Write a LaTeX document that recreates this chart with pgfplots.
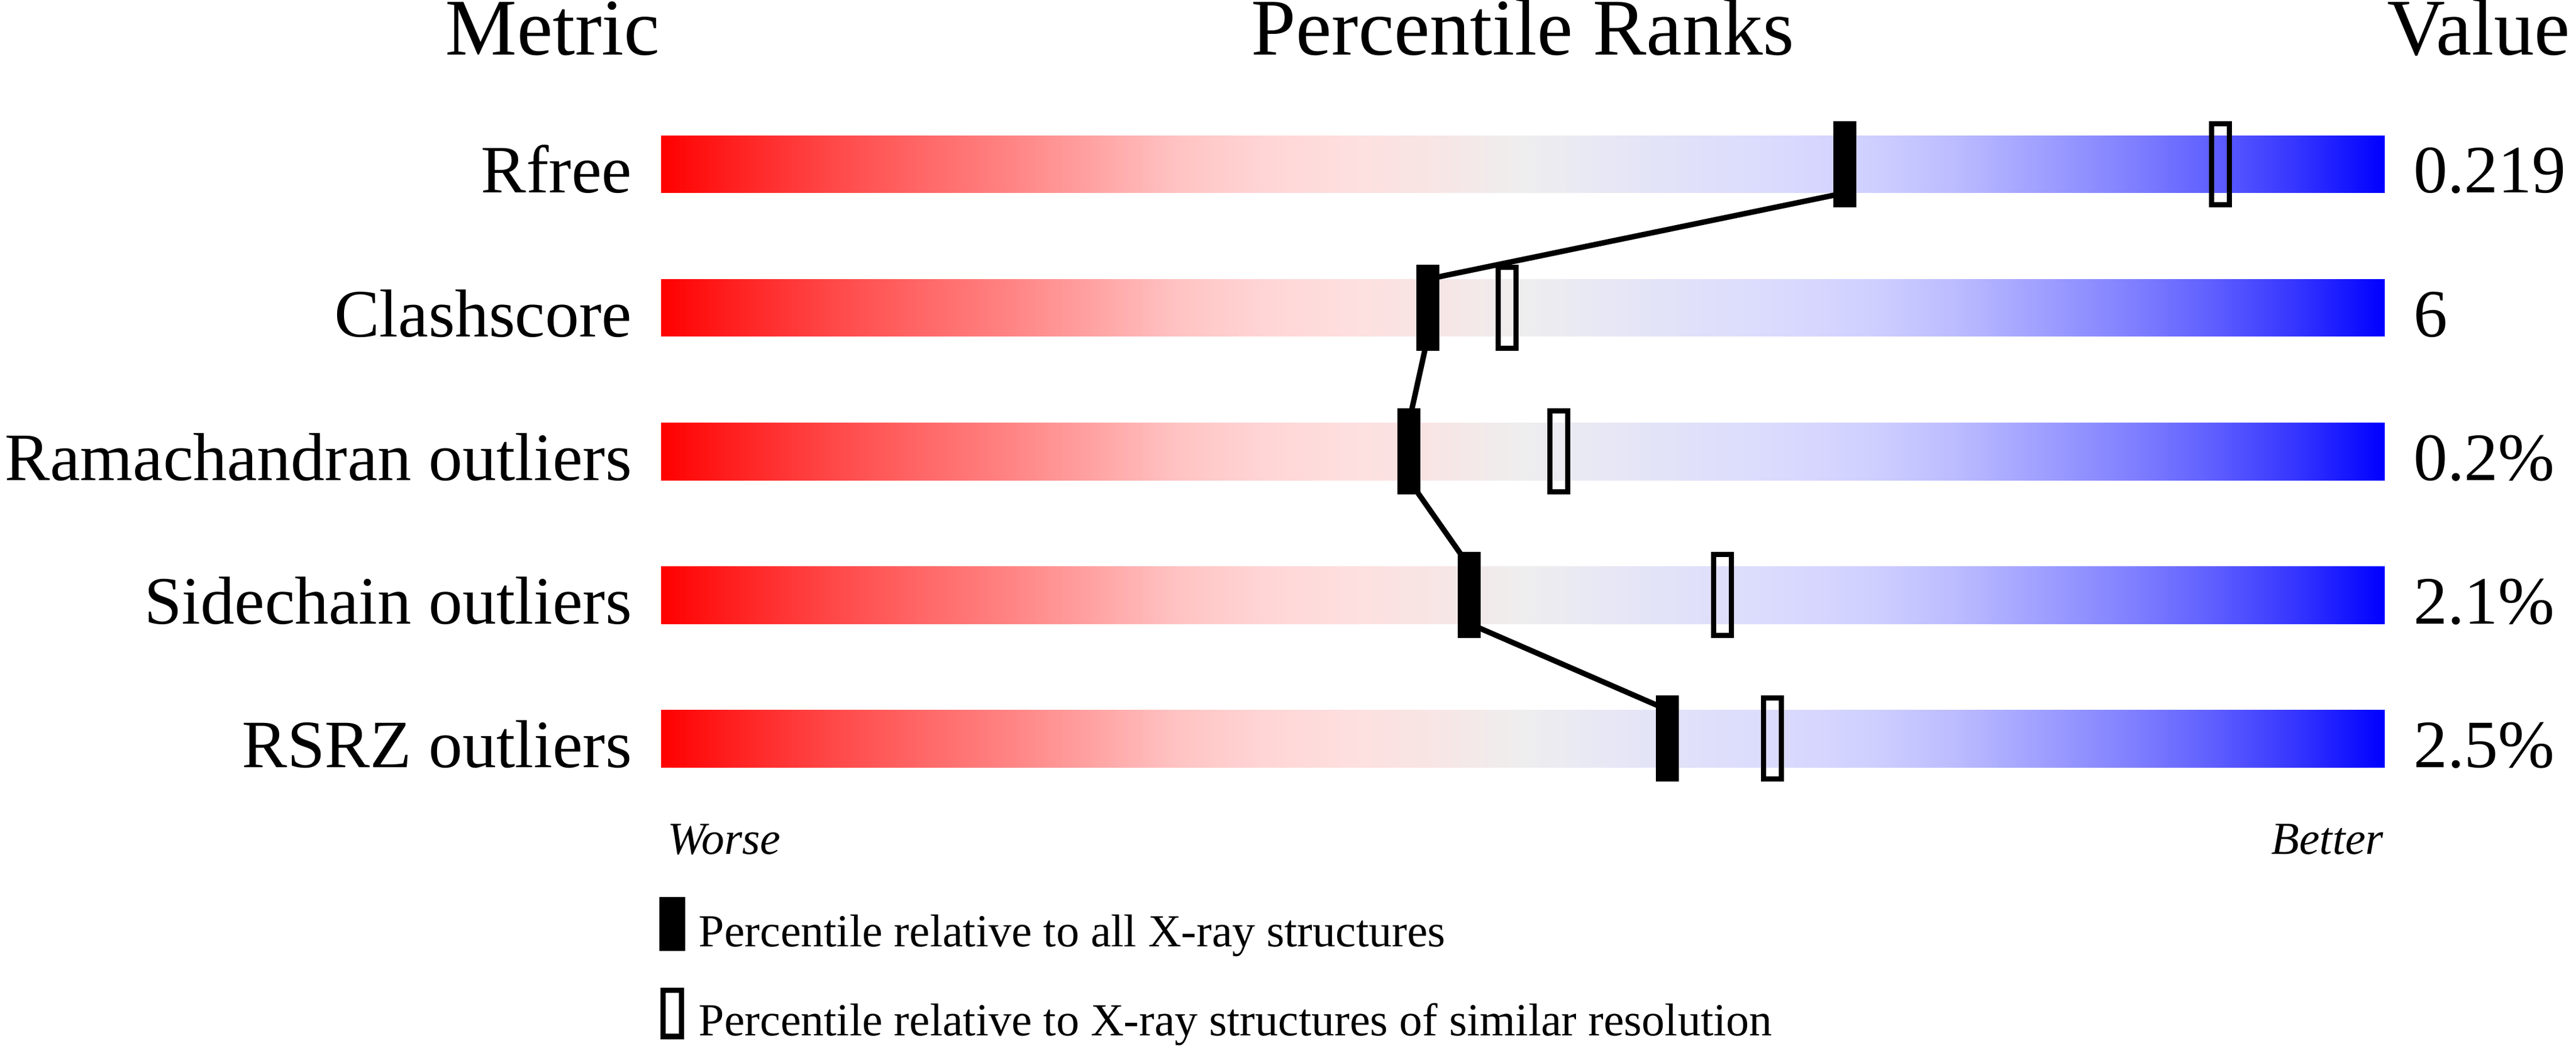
\documentclass[border=0pt]{standalone}
\usepackage{fontspec}
\setmainfont{Liberation Serif}
\usepackage{pgfplots}
\pgfplotsset{compat=1.18}

\pgfdeclareplotmark{fbar}{%
  \pgfpathrectangle{\pgfpoint{-2pt}{-7.5pt}}{\pgfpoint{4pt}{15pt}}%
  \pgfusepathqfill}
\pgfdeclareplotmark{hbar}{%
  \pgfpathrectangle{\pgfpoint{-1.535pt}{-7.035pt}}{\pgfpoint{3.07pt}{14.07pt}}%
  \pgfusepathqstroke}

\begin{document}
\begin{tikzpicture}
\useasboundingbox (-115.1pt,0pt) rectangle (333.4pt,182.4pt);
\begin{axis}[
  scale only axis, width=300pt, height=182.4pt,
  at={(0pt,0pt)}, anchor=south west,
  xmin=0, xmax=100, ymin=0, ymax=182.4,
  hide axis, clip=false,
  colormap={pdb}{
    rgb255=(255,0,0) rgb255=(255,38,38) rgb255=(255,72,72) rgb255=(255,102,102)
    rgb255=(255,130,130) rgb255=(255,162,162) rgb255=(255,195,195) rgb255=(255,213,213)
    rgb255=(254,223,223) rgb255=(248,229,229) rgb255=(238,238,238) rgb255=(231,231,245)
    rgb255=(224,224,250) rgb255=(218,218,254) rgb255=(208,208,255) rgb255=(188,188,255)
    rgb255=(160,160,255) rgb255=(130,130,255) rgb255=(95,95,255) rgb255=(52,52,255)
    rgb255=(0,0,255)},
  point meta min=0, point meta max=100,
  legend style={at={(-0.001,0.14364)}, anchor=north west, draw=none, fill=none,
    inner sep=0pt, outer sep=0pt, row sep=5.66pt, column sep=2.4pt,
    font=\fontsize{8}{9.6}\selectfont,
    nodes={inner sep=0pt, outer sep=0pt, anchor=base west}},
  legend cell align=left,
]
% gradient bars (percentile scale 0-100)
\addplot[surf, shader=interp, mesh/cols=2, point meta=x, forget plot]
  coordinates {(0,148.8) (100,148.8) (0,158.8) (100,158.8)};
\addplot[surf, shader=interp, mesh/cols=2, point meta=x, forget plot]
  coordinates {(0,123.8) (100,123.8) (0,133.8) (100,133.8)};
\addplot[surf, shader=interp, mesh/cols=2, point meta=x, forget plot]
  coordinates {(0,98.8) (100,98.8) (0,108.8) (100,108.8)};
\addplot[surf, shader=interp, mesh/cols=2, point meta=x, forget plot]
  coordinates {(0,73.8) (100,73.8) (0,83.8) (100,83.8)};
\addplot[surf, shader=interp, mesh/cols=2, point meta=x, forget plot]
  coordinates {(0,48.8) (100,48.8) (0,58.8) (100,58.8)};
% connecting line through the all-structures percentiles
\addplot[black, line width=0.95pt, forget plot]
  coordinates {(68.7,148.8) (44.5,133.8) (44.5,123.8) (43.4,108.8) (43.4,98.8)
               (46.9,83.8) (46.9,73.8) (58.4,58.8)};
% percentile relative to all X-ray structures
\addplot[only marks, mark=fbar, black,
  legend image code/.code={\fill[black] (0pt,-0.6pt) rectangle (4.1pt,8.4pt);}]
  coordinates {(68.7,153.8) (44.5,128.8) (43.4,103.8) (46.9,78.8) (58.4,53.8)};
\addlegendentry{Percentile relative to all X-ray structures}
% percentile relative to similar resolution
\addplot[only marks, mark=hbar, black, mark options={line width=0.93pt, solid},
  legend image code/.code={\draw[black, line width=0.93pt] (0.465pt,-0.135pt) rectangle (3.635pt,7.935pt);}]
  coordinates {(90.5,153.8) (49.1,128.8) (52.1,103.8) (61.6,78.8) (64.5,53.8)};
\addlegendentry{Percentile relative to X-ray structures of similar resolution}

% headers
\node[anchor=base east, inner sep=0pt, font=\fontsize{14}{16.8}\selectfont] at (axis cs:0,172.8) {Metric};
\node[anchor=base, inner sep=0pt, font=\fontsize{14}{16.8}\selectfont] at (axis cs:50,172.8) {Percentile Ranks};
\node[anchor=base west, inner sep=0pt, xshift=0.3pt, font=\fontsize{14}{16.8}\selectfont] at (axis cs:100,172.8) {Value};
% metric names
\node[anchor=base east, inner sep=0pt, xshift=-4.9pt, font=\fontsize{11.8}{14}\selectfont] at (axis cs:0,148.8) {Rfree};
\node[anchor=base east, inner sep=0pt, xshift=-4.9pt, font=\fontsize{11.8}{14}\selectfont] at (axis cs:0,123.8) {Clashscore};
\node[anchor=base east, inner sep=0pt, xshift=-4.9pt, font=\fontsize{11.8}{14}\selectfont] at (axis cs:0,98.8) {Ramachandran outliers};
\node[anchor=base east, inner sep=0pt, xshift=-4.9pt, font=\fontsize{11.8}{14}\selectfont] at (axis cs:0,73.8) {Sidechain outliers};
\node[anchor=base east, inner sep=0pt, xshift=-4.9pt, font=\fontsize{11.8}{14}\selectfont] at (axis cs:0,48.8) {RSRZ outliers};
% values
\node[anchor=base west, inner sep=0pt, xshift=4.9pt, font=\fontsize{11.8}{14}\selectfont] at (axis cs:100,148.8) {0.219};
\node[anchor=base west, inner sep=0pt, xshift=4.9pt, font=\fontsize{11.8}{14}\selectfont] at (axis cs:100,123.8) {6};
\node[anchor=base west, inner sep=0pt, xshift=4.9pt, font=\fontsize{11.8}{14}\selectfont] at (axis cs:100,98.8) {0.2\%};
\node[anchor=base west, inner sep=0pt, xshift=4.9pt, font=\fontsize{11.8}{14}\selectfont] at (axis cs:100,73.8) {2.1\%};
\node[anchor=base west, inner sep=0pt, xshift=4.9pt, font=\fontsize{11.8}{14}\selectfont] at (axis cs:100,48.8) {2.5\%};
% worse / better
\node[anchor=base west, inner sep=0pt, xshift=0.9pt, font=\fontsize{8}{9.6}\selectfont\itshape] at (axis cs:0,33.7) {Worse};
\node[anchor=base east, inner sep=0pt, xshift=0.1pt, font=\fontsize{8}{9.6}\selectfont\itshape] at (axis cs:100,33.7) {Better};
\end{axis}
\end{tikzpicture}
\end{document}
